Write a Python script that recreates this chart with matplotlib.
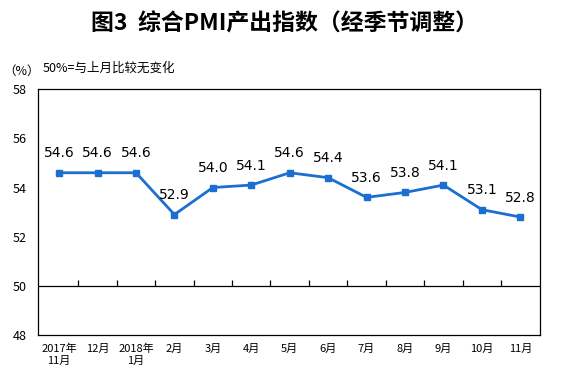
import matplotlib
matplotlib.use("Agg")
import matplotlib.pyplot as plt
import numpy as np

plt.rcParams["font.family"] = ["Noto Sans CJK SC", "DejaVu Sans"]

months = ["2017年\n11月", "12月", "2018年\n1月", "2月", "3月", "4月", "5月",
          "6月", "7月", "8月", "9月", "10月", "11月"]
pmi = [54.6, 54.6, 54.6, 52.9, 54.0, 54.1, 54.6, 54.4, 53.6, 53.8, 54.1, 53.1, 52.8]
yticks = [48, 50, 52, 54, 56, 58]

fig = plt.figure(figsize=(5.8, 3.91), dpi=100)
ax = fig.add_axes([0.0655, 0.143, 0.866, 0.629])

x = np.arange(len(pmi))
ax.plot(x, pmi, color="#1a6fd1", lw=2, marker="s", ms=4.5)
for xi, v in zip(x, pmi):
    ax.annotate(f"{v:.1f}", (xi, v), xytext=(0, 9), textcoords="offset points",
                ha="center", va="bottom", fontsize=10, family="DejaVu Sans")

ax.axhline(50, color="black", lw=0.9)
ax.vlines(x[:-1] + 0.5, 50, 50.22, color="black", lw=0.9)

ax.set_xlim(-0.55, len(pmi) - 0.48)
ax.set_ylim(48, 58)
ax.set_yticks(yticks)
ax.set_xticks(x)
ax.set_xticklabels(months, fontsize=8, linespacing=1.25)
ax.tick_params(axis="x", length=0, pad=6)
ax.tick_params(axis="y", labelsize=9, length=0, pad=8)
for s in ax.spines.values():
    s.set_linewidth(0.9)

fig.text(0.49, 0.939, "图3  综合PMI产出指数（经季节调整）", ha="center", va="center",
         fontsize=16.5, fontweight="bold")
fig.text(0.005, 0.818, "（%）", fontsize=9, va="center")
fig.text(0.074, 0.825, "50%=与上月比较无变化", fontsize=9, va="center")

fig.savefig("out.png", dpi=100)
